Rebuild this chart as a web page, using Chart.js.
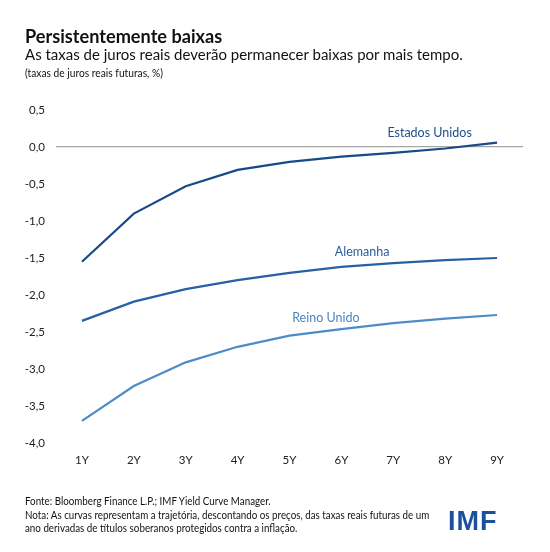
<!DOCTYPE html>
<html>
<head>
<meta charset="utf-8">
<script src="https://cdn.jsdelivr.net/npm/chart.js@4.4.1/dist/chart.umd.min.js"></script>
<style>
  body { margin: 0; background: #fff; font-family: Lato, "Open Sans", sans-serif; color: #111; }
  #wrap { position: relative; width: 550px; height: 552px; overflow: hidden; }
  #chart { position: absolute; left: 0; top: 0; }
  .txt { position: absolute; left: 25px; white-space: nowrap; transform-origin: left top; }
  #title { top: 24px; font-size: 19px; font-weight: 700; transform: scaleX(0.955); }
  #subtitle { top: 45px; font-size: 15.5px; transform: scaleX(0.967); }
  #unit { top: 66px; font-size: 11px; transform: scaleX(0.93); }
  #source { top: 494px; font-size: 11px; line-height: 13.5px; transform: scaleX(0.89); }
  #logo { position: absolute; left: 448px; top: 508px; font-family: "Liberation Sans", Arial, sans-serif; font-size: 27px; line-height: 1; font-weight: 700; color: #1c4f9c; letter-spacing: 1px; }
</style>
</head>
<body>
<div id="wrap">
  <canvas id="chart" width="550" height="552"></canvas>
  <div class="txt" id="title">Persistentemente baixas</div>
  <div class="txt" id="subtitle">As taxas de juros reais deverão permanecer baixas por mais tempo.</div>
  <div class="txt" id="unit">(taxas de juros reais futuras, %)</div>
  <div class="txt" id="source">Fonte: Bloomberg Finance L.P.; IMF Yield Curve Manager.<br>Nota: As curvas representam a trajetória, descontando os preços, das taxas reais futuras de um<br>ano derivadas de títulos soberanos protegidos contra a inflação.</div>
  <div id="logo">IMF</div>
</div>
<script>
document.addEventListener('DOMContentLoaded', () => {
    // Data
    const maturities = ['1Y', '2Y', '3Y', '4Y', '5Y', '6Y', '7Y', '8Y', '9Y'];
    const estadosUnidos = [-1.55, -0.90, -0.53, -0.31, -0.20, -0.13, -0.08, -0.02, 0.06];
    const alemanha = [-2.35, -2.09, -1.92, -1.80, -1.70, -1.62, -1.57, -1.53, -1.50];
    const reinoUnido = [-3.70, -3.23, -2.91, -2.70, -2.55, -2.46, -2.38, -2.32, -2.27];

    // Inline series labels: [text, x position (category index), y value]
    const seriesLabels = [
        ['Estados Unidos', 6.7, 0.19, '#1f4f8a'],
        ['Alemanha', 5.4, -1.42, '#2a5f9e'],
        ['Reino Unido', 4.7, -2.31, '#4a86c0']
    ];

    const inlineLabels = {
        id: 'inlineLabels',
        afterDatasetsDraw(chart) {
            const { ctx, scales: { x, y } } = chart;
            const step = x.getPixelForValue(1) - x.getPixelForValue(0);
            ctx.save();
            ctx.font = '12.5px Lato, sans-serif';
            ctx.textAlign = 'center';
            ctx.textBaseline = 'middle';
            seriesLabels.forEach(([text, xi, yv, color]) => {
                ctx.fillStyle = color;
                ctx.fillText(text, x.getPixelForValue(0) + xi * step, y.getPixelForValue(yv));
            });
            ctx.restore();
        }
    };

    const makeSet = (label, data, color) => ({
        label, data, borderColor: color, borderWidth: 2.2,
        pointRadius: 0, fill: false, tension: 0
    });

    new Chart(document.getElementById('chart'), {
        type: 'line',
        data: {
            labels: maturities,
            datasets: [
                makeSet('Estados Unidos', estadosUnidos, '#174a86'),
                makeSet('Alemanha', alemanha, '#2760a3'),
                makeSet('Reino Unido', reinoUnido, '#4d8cc6')
            ]
        },
        options: {
            responsive: false,
            animation: false,
            layout: { padding: { top: 110, bottom: 79, left: 0, right: 27 } },
            plugins: { legend: { display: false }, tooltip: { enabled: false } },
            scales: {
                x: {
                    offset: true,
                    afterFit: (s) => { s.height = 30; },
                    grid: { display: false },
                    border: { display: false },
                    ticks: { padding: 2, color: '#222', font: { family: 'Lato', size: 11.5 } }
                },
                y: {
                    min: -4, max: 0.5,
                    afterFit: (s) => { s.width = 56; },
                    border: { display: false },
                    grid: {
                        drawTicks: false,
                        color: (c) => c.tick && c.tick.value === 0 ? '#a6a6a6' : 'rgba(0,0,0,0)',
                        lineWidth: 1.2
                    },
                    ticks: {
                        stepSize: 0.5, padding: 11, color: '#222',
                        font: { family: 'Lato', size: 11.5 },
                        callback: (v) => v.toFixed(1).replace('.', ',')
                    }
                }
            }
        },
        plugins: [inlineLabels]
    });
});
</script>
</body>
</html>
